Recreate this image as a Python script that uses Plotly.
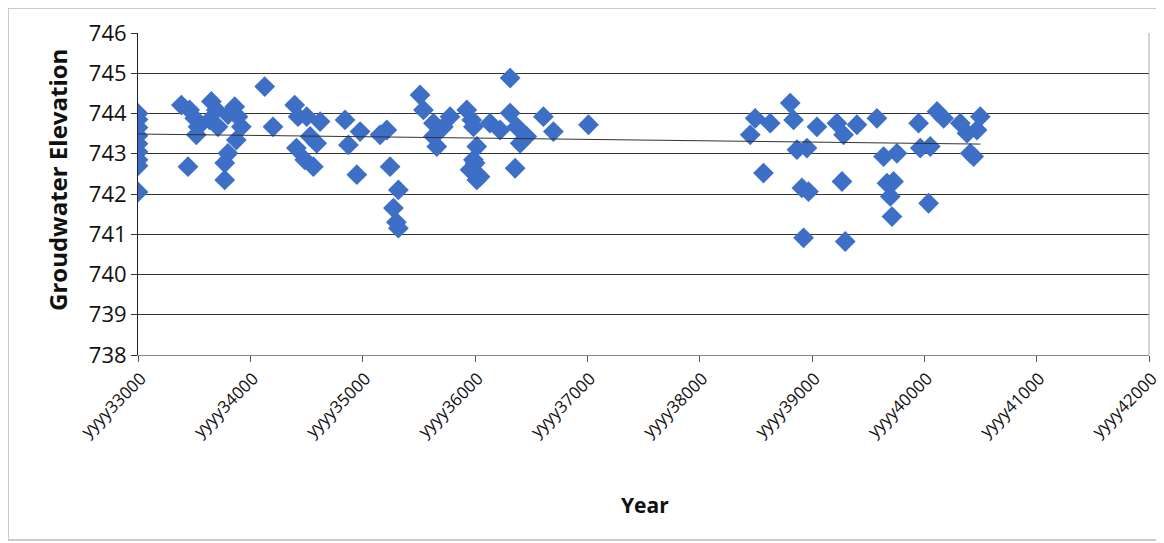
import plotly.graph_objects as go

# ---- data ----
x_vals = [
    33000, 33000, 33000, 33000, 33000, 33000, 33000, 33000, 33000,
    33386, 33460, 33505, 33534, 33519, 33445, 33653, 33697, 33638, 33712,
    33801, 33861, 33890, 33920, 33875, 33801, 33772, 33772, 34128, 34202,
    34395, 34425, 34410, 34484,
    34502, 34532, 34621, 34561, 34591, 34843, 34977, 34873, 34948,
    35215, 35155, 35244, 35318, 35274, 35318, 35300,
    35511, 35541, 35630, 35660, 35630, 35778, 35927, 35986, 35986, 36016, 35956,
    35719, 35971, 36016, 36001, 36045, 36134, 36223, 36313, 36313, 36372,
    36402, 36357, 36461, 36609, 36698, 37010,
    38494, 38450, 38628, 38568, 38806, 38836, 38866, 38955, 38910, 38969,
    38925, 39044, 39222, 39281, 39267, 39296, 39400,
    39578, 39637, 39756, 39667, 39726, 39697, 39712, 39949, 39964, 40053,
    40038, 40113, 40172, 40320, 40380, 40498, 40439, 40409, 40469,
]
y_vals = [
    744.0, 743.85, 743.65, 743.45, 743.25, 743.05, 742.85, 742.7, 742.05,
    744.21, 744.09, 743.88, 743.67, 743.47, 742.68, 744.30, 744.09, 743.84, 743.67,
    743.97, 744.17, 743.92, 743.67, 743.34, 743.01, 742.77, 742.35, 744.67, 743.67,
    744.21, 743.92, 743.14, 742.85,
    743.92, 743.43, 743.80, 742.68, 743.26, 743.84, 743.55, 743.22, 742.48,
    743.59, 743.47, 742.68, 742.10, 741.65, 741.15, 741.30,
    744.46, 744.09, 743.76, 743.18, 743.43, 743.92, 744.09, 743.67, 742.85, 742.35, 742.60,
    743.67, 743.84, 743.18, 742.77, 742.43, 743.76, 743.59, 744.88, 744.01, 743.67,
    743.26, 742.64, 743.43, 743.92, 743.55, 743.72,
    743.88, 743.47, 743.76, 742.52, 744.26, 743.84, 743.10, 743.14, 742.15, 742.06,
    740.91, 743.67, 743.76, 743.47, 742.31, 740.82, 743.72,
    743.88, 742.93, 743.01, 742.27, 742.31, 741.94, 741.44, 743.76, 743.14, 743.18,
    741.77, 744.05, 743.88, 743.76, 743.51, 743.92, 742.93, 743.01, 743.59,
]
trend_x = [33000, 40500]
trend_y = [743.49, 743.24]

x_ticks = list(range(33000, 42001, 1000))
x_tick_labels = ["yyyy" + str(v) for v in x_ticks]
y_ticks = list(range(738, 747))

FONT = "Open Sans, Liberation Sans, sans-serif"

# page offset of the figure div (browser default body margin)
OFF = 8
# plot area in screen pixels (from the reference)
SL, SR, ST, SB = 138, 1149, 33, 355
L, R, T, B = SL - OFF, SR - OFF, ST - OFF, SB - OFF
W, H = 1164, 543


def px_x(p):
    return (p - SL) / (SR - SL)


def px_y(p):
    return (SB - p) / (SB - ST)


fig = go.Figure()
fig.add_trace(go.Scatter(
    x=x_vals, y=y_vals, mode="markers",
    marker=dict(symbol="diamond", size=16, color="#3d6fc7",
                line=dict(width=0)),
    showlegend=False, hoverinfo="x+y",
))
fig.add_trace(go.Scatter(
    x=trend_x, y=trend_y, mode="lines",
    line=dict(color="#333333", width=1),
    showlegend=False, hoverinfo="skip",
))

fig.update_layout(
    width=W, height=H,
    margin=dict(l=L, r=W - R, t=T, b=H - B),
    paper_bgcolor="white", plot_bgcolor="white",
    font=dict(family=FONT, color="#000000"),
    xaxis=dict(
        range=[33000, 42000], tickmode="array", tickvals=x_ticks,
        ticktext=x_tick_labels, tickangle=-45,
        tickfont=dict(size=17, family=FONT, color="#111111"),
        ticks="outside", ticklen=6, tickcolor="#555555",
        ticklabelshift=3, ticklabeloverflow="allow",
        showline=True, linecolor="#888888", linewidth=1,
        showgrid=False, zeroline=False, automargin=False,
    ),
    yaxis=dict(
        range=[738, 746], tickmode="array", tickvals=y_ticks,
        tickfont=dict(size=22, family=FONT, color="#111111"),
        ticks="outside", ticklen=6, tickcolor="#333333",
        showline=True, linecolor="#222222", linewidth=1,
        showgrid=True, gridcolor="#333333", gridwidth=1,
        zeroline=False, automargin=False,
    ),
    annotations=[
        dict(text="<b>Groudwater Elevation</b>", xref="paper", yref="paper",
             x=px_x(57), y=px_y(180), textangle=-90, showarrow=False,
             xanchor="center", yanchor="middle",
             font=dict(size=24, family=FONT, color="#111111")),
        dict(text="<b>Year</b>", xref="paper", yref="paper",
             x=px_x(645), y=px_y(505), showarrow=False,
             xanchor="center", yanchor="middle",
             font=dict(size=21, family=FONT, color="#111111")),
    ],
)
# plot-area right border
fig.add_shape(type="line", xref="paper", yref="paper", x0=1, x1=1, y0=0, y1=1,
              line=dict(color="#aaaaaa", width=1))
# outer chart border
fig.add_shape(type="rect", xref="paper", yref="paper",
              x0=px_x(8), x1=px_x(1162), y0=px_y(540), y1=px_y(8),
              line=dict(color="#bbbbbb", width=1.5), layer="below")

fig.write_html("out.html")
